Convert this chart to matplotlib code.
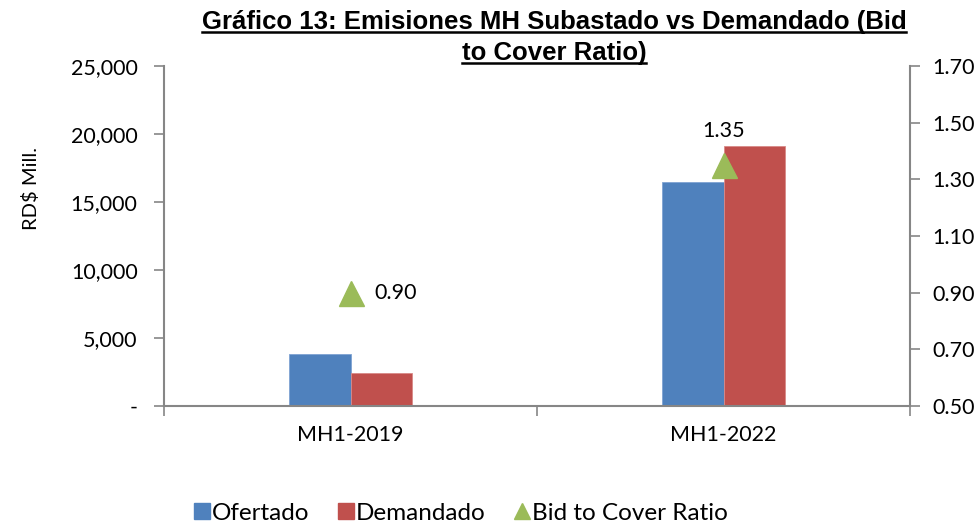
import matplotlib.pyplot as plt
import numpy as np
from matplotlib.lines import Line2D

# data
categorias = ['MH1-2019', 'MH1-2022']
ofertado = [3800, 16450]
demandado = [2400, 19100]
bid_cover = [0.90, 1.35]

azul = '#4F81BD'
rojo = '#C0504D'
verde = '#9BBB59'
gris = '#868686'

plt.rcParams['font.family'] = ['Lato', 'DejaVu Sans']

fig = plt.figure(figsize=(9.76, 5.27), dpi=100)
ax = fig.add_axes([164 / 976, 1 - 406 / 527, (910 - 164) / 976, (406 - 66) / 527])

x = np.arange(len(categorias))
w = 0.166
ax.bar(x - w / 2, ofertado, w, color=azul, edgecolor='#7FA3D3', linewidth=0.6)
ax.bar(x + w / 2, demandado, w, color=rojo, edgecolor='#D98A88', linewidth=0.6)

ax.set_xlim(-0.5, 1.5)
ax.set_ylim(0, 25000)
ax.set_yticks(np.arange(0, 25001, 5000))
ax.set_yticklabels(['-'] + [f'{v:,.0f}' for v in np.arange(5000, 25001, 5000)])
ax.set_xticks([-0.5, 0.5, 1.5])
ax.set_xticklabels([])
ax.set_xticks(x, minor=True)
ax.set_xticklabels(categorias, minor=True)
ax.tick_params(axis='x', which='minor', length=0, pad=14, labelsize=15.5)
ax.tick_params(axis='x', which='major', length=7, color=gris, width=1.2)
ax.tick_params(axis='y', length=7, color=gris, width=1.2, labelsize=15.5, pad=12)
for s in ['left', 'bottom']:
    ax.spines[s].set_color(gris)
    ax.spines[s].set_linewidth(1.5)
ax.spines['top'].set_visible(False)
ax.spines['right'].set_visible(False)

ax2 = ax.twinx()
ax2.set_ylim(0.5, 1.7)
ax2.set_yticks(np.arange(0.5, 1.71, 0.2))
ax2.set_yticklabels([f'{v:.2f}' for v in np.arange(0.5, 1.71, 0.2)])
ax2.tick_params(axis='y', length=7, color=gris, width=1.2, labelsize=15.5, pad=9)
for s in ['left', 'bottom', 'top']:
    ax2.spines[s].set_visible(False)
ax2.spines['right'].set_color(gris)
ax2.spines['right'].set_linewidth(1.5)

ax2.plot(x, bid_cover, linestyle='none', marker='^', markersize=18, color=verde)
ax2.text(x[0] + 0.065, bid_cover[0], f'{bid_cover[0]:.2f}', fontsize=15.5, va='center', ha='left')
ax2.text(x[1], bid_cover[1] + 0.12, f'{bid_cover[1]:.2f}', fontsize=15.5, va='center', ha='center')

fig.text(31 / 976, 1 - 188 / 527, 'RD$ Mill.', rotation=90, fontsize=14.5, ha='center', va='center')

# title with underline
titulo = ['Gráfico 13: Emisiones MH Subastado vs Demandado (Bid', 'to Cover Ratio)']
ys = [22, 53]
fig.canvas.draw()
r = fig.canvas.get_renderer()
for t, yy in zip(titulo, ys):
    tx = fig.text(554 / 976, 1 - yy / 527, t, fontsize=18.5, fontweight='bold',
                  family=['Liberation Sans Narrow', 'Liberation Sans'], ha='center', va='center')
    bb = tx.get_window_extent(renderer=r).transformed(fig.transFigure.inverted())
    fig.add_artist(Line2D([bb.x0, bb.x1], [bb.y0 + 0.003, bb.y0 + 0.003], color='black',
                          linewidth=1.8, transform=fig.transFigure))

handles = [Line2D([], [], linestyle='none', marker='s', markersize=12, color=azul),
           Line2D([], [], linestyle='none', marker='s', markersize=12, color=rojo),
           Line2D([], [], linestyle='none', marker='^', markersize=12, color=verde)]
fig.legend(handles, ['Ofertado', 'Demandado', 'Bid to Cover Ratio'], loc='center',
           bbox_to_anchor=(460 / 976, 1 - 513 / 527), ncol=3, frameon=False, fontsize=17.5,
           handletextpad=0.0, columnspacing=1.1, handlelength=0.8)

fig.savefig('out.png', dpi=100)
